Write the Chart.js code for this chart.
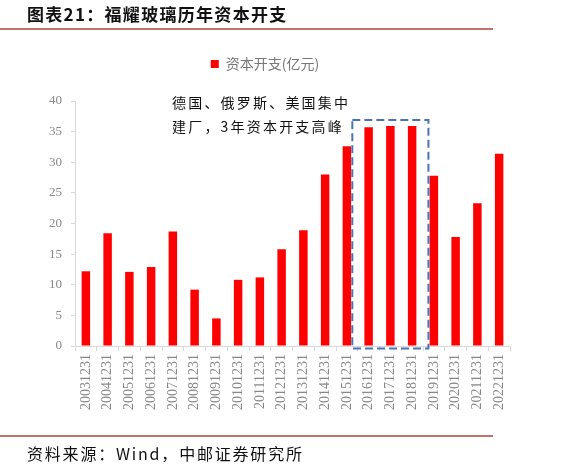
<!DOCTYPE html>
<html>
<head>
<meta charset="utf-8">
<script src="https://cdn.jsdelivr.net/npm/chart.js@4"></script>
<style>
html,body{margin:0;padding:0;background:#fff;width:563px;height:465px;overflow:hidden;}
#wrap{position:absolute;left:0;top:0;width:563px;height:465px;}
.t{position:absolute;white-space:nowrap;font-family:"Noto Sans CJK SC",sans-serif;}
#title{left:27px;top:1px;font-size:17px;font-weight:bold;color:#111;letter-spacing:1.3px;}
#line1{position:absolute;left:0;top:28px;width:493px;height:2px;background:#c4736c;}
#line2{position:absolute;left:0;top:435px;width:493px;height:1.5px;background:#c4736c;}
#src{left:27px;top:441px;font-size:16px;color:#111;letter-spacing:1.8px;}
#note{left:172px;top:90px;font-size:14px;line-height:24px;color:#111;letter-spacing:2.2px;}
</style>
</head>
<body>
<div id="wrap"><canvas id="c" width="563" height="465"></canvas></div>
<div class="t" id="title">图表21：福耀玻璃历年资本开支</div>
<div id="line1"></div>
<div class="t" id="note">德国、俄罗斯、美国集中<br>建厂，3年资本开支高峰</div>
<div id="line2"></div>
<div class="t" id="src">资料来源：Wind，中邮证券研究所</div>
<script>
const categories = ["20031231","20041231","20051231","20061231","20071231","20081231","20091231","20101231","20111231","20121231","20131231","20141231","20151231","20161231","20171231","20181231","20191231","20201231","20211231","20221231"];
const capex = [12.2, 18.4, 12.1, 12.9, 18.7, 9.2, 4.5, 10.8, 11.2, 15.8, 18.9, 28.0, 32.6, 35.7, 35.9, 35.9, 27.8, 17.8, 23.3, 31.4];
const seriesName = "资本开支(亿元)";
const yTicks = [0,5,10,15,20,25,30,35,40];
const boxFrom = 13, boxTo = 15, boxTop = 36.9;

const boxPlugin = {
  id:'box',
  afterDatasetsDraw(chart){
    const x = chart.scales.x, y = chart.scales.y, ctx = chart.ctx;
    const cw = x.getPixelForValue(1) - x.getPixelForValue(0);
    const l = x.getPixelForValue(boxFrom) - 0.75*cw;
    const r = x.getPixelForValue(boxTo) + 0.75*cw;
    const t = y.getPixelForValue(boxTop);
    const b = y.getPixelForValue(0) + 2.5;
    ctx.save();
    ctx.strokeStyle = '#4a74b8';
    ctx.lineWidth = 2;
    ctx.setLineDash([8,4]);
    ctx.strokeRect(l,t,r-l,b-t);
    ctx.restore();
  }
};
const legendGap = {
  id:'legendGap',
  beforeInit(chart){
    const fit = chart.legend.fit;
    chart.legend.fit = function(){ fit.bind(chart.legend)(); this.height += 20; };
  },
  afterLayout(chart){
    chart.legend.left += 10;
    chart.legend.right += 10;
  }
};

new Chart(document.getElementById('c'), {
  type:'bar',
  data:{labels:categories, datasets:[{label:seriesName, data:capex, backgroundColor:'#ff0000', borderWidth:0, barPercentage:0.39, categoryPercentage:1}]},
  plugins:[boxPlugin, legendGap],
  options:{
    responsive:false, animation:false,
    layout:{padding:{top:51,right:53,bottom:0,left:0}},
    plugins:{
      tooltip:{enabled:false},
      legend:{position:'top', labels:{boxWidth:8, boxHeight:8, padding:6, color:'#777', font:{family:'"Noto Sans CJK SC", serif', size:14}}}
    },
    scales:{
      x:{
        afterFit(s){ s.height = 119; },
        grid:{drawOnChartArea:false, drawTicks:true, tickLength:5, color:'#d9d9d9', offset:true},
        border:{color:'#d9d9d9'},
        ticks:{minRotation:90, maxRotation:90, autoSkip:false, padding:3, color:'#888', font:{family:'"Liberation Serif", serif', size:14}}
      },
      y:{
        min:0, max:40,
        afterFit(s){ s.width = 75; },
        afterBuildTicks(s){ s.ticks = yTicks.map(v=>({value:v})); },
        grid:{drawOnChartArea:false, drawTicks:true, tickLength:4, color:'#d9d9d9'},
        border:{color:'#d9d9d9'},
        ticks:{padding:9, color:'#888', font:{family:'"Liberation Serif", serif', size:13}}
      }
    }
  }
});
</script>
</body>
</html>
